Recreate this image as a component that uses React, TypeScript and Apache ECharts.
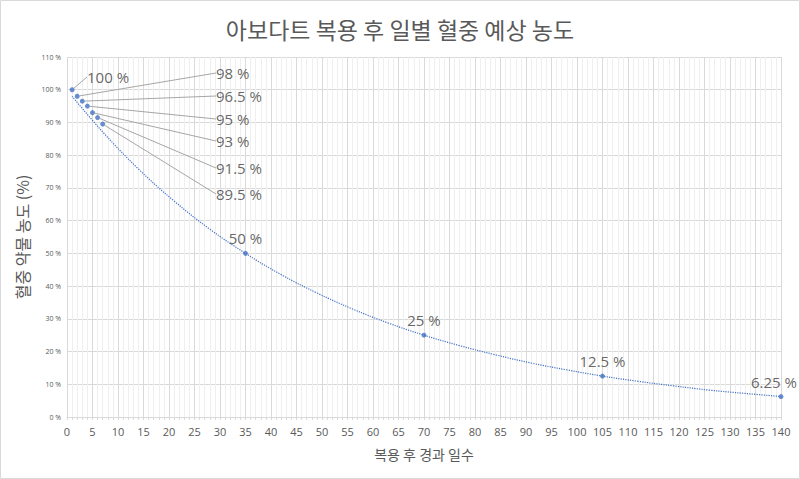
import React, { useEffect, useRef } from "react";
import * as echarts from "echarts";

const days = [1, 2, 3, 4, 5, 6, 7, 35, 70, 105, 140];
const concentration = [100, 98, 96.5, 95, 93, 91.5, 89.5, 50, 25, 12.5, 6.25];
// dotted trend curve
const trendDays = [1, 7, 14, 21, 28, 35, 42, 49, 56, 63, 70, 77, 84, 91, 98, 105, 112, 119, 126, 133, 140];
const trendValues = [98, 87.1, 75.8, 66, 57.4, 50, 43.5, 37.9, 33, 28.7, 25, 21.8, 19, 16.5, 14.4, 12.5, 10.9, 9.5, 8.2, 7.2, 6.25];
const titleText = "아보다트 복용 후 일별 혈중 예상 농도";
const xName = "복용 후 경과 일수";
const yName = "혈중 약물 농도 (%)";

const calloutY = [73, 96, 119, 141, 168, 194];

export default function App() {
  const ref = useRef<HTMLDivElement>(null);
  useEffect(() => {
    document.body.style.margin = "0";
    const chart = echarts.init(ref.current!, null, { renderer: "svg" });
    const data = days.map((d, i) => ({
      value: [d, concentration[i]],
      labelLine: { show: i <= 6 },
    }));
    chart.setOption({
      animation: false,
      backgroundColor: "#ffffff",
      title: {
        text: titleText,
        left: "center",
        top: 12,
        textStyle: {
          fontFamily: "Noto Sans CJK KR",
          fontSize: 23,
          fontWeight: "normal",
          color: "#595959",
        },
      },
      graphic: [
        {
          type: "rect",
          shape: { x: 0.5, y: 0.5, width: 799, height: 478 },
          style: { fill: "none", stroke: "#d9d9d9", lineWidth: 1 },
          silent: true,
        },
      ],
      grid: { left: 67, right: 19, top: 57, bottom: 62 },
      xAxis: {
        type: "value",
        min: 0,
        max: 140,
        interval: 5,
        name: xName,
        nameLocation: "middle",
        nameGap: 30,
        nameTextStyle: { fontFamily: "Noto Sans CJK KR", fontSize: 14, color: "#595959" },
        axisLine: { show: true, lineStyle: { color: "#d9d9d9" } },
        axisTick: { show: true, length: 3, lineStyle: { color: "#d9d9d9" } },
        minorTick: { show: true, splitNumber: 5, length: 3, lineStyle: { color: "#d9d9d9" } },
        axisLabel: { fontFamily: "Open Sans", fontSize: 11, color: "#595959", margin: 9 },
        splitLine: { show: true, lineStyle: { color: "#d9d9d9", width: 1 } },
        minorSplitLine: { show: true, lineStyle: { color: "#efefef", width: 1 } },
      },
      yAxis: {
        type: "value",
        min: 0,
        max: 110,
        interval: 10,
        name: yName,
        nameLocation: "middle",
        nameGap: 31,
        nameRotate: 90,
        nameTextStyle: { fontFamily: "Noto Sans CJK KR", fontSize: 16, color: "#595959" },
        axisLine: { show: false },
        axisTick: { show: false },
        axisLabel: {
          fontFamily: "Open Sans",
          fontSize: 7,
          color: "#595959",
          margin: 6,
          formatter: "{value} %",
        },
        splitLine: { show: true, lineStyle: { color: "#d9d9d9", width: 1 } },
      },
      series: [
        {
          type: "line",
          data: trendDays.map((d, i) => [d, trendValues[i]]),
          smooth: 0.4,
          showSymbol: false,
          silent: true,
          lineStyle: { color: "#4472C4", width: 1.2, type: "dotted" },
          z: 2,
        },
        {
          type: "scatter",
          data,
          symbol: "circle",
          symbolSize: 5,
          itemStyle: { color: "#4472C4" },
          z: 3,
          label: {
            show: true,
            position: "top",
            distance: 5,
            fontFamily: "Open Sans",
            fontSize: 15,
            color: "#404040",
            formatter: (p: any) => `${p.value[1]} %`,
          },
          labelLine: { show: true, lineStyle: { color: "#a6a6a6", width: 1 } },
          labelLayout: (p: any) => {
            const i = p.dataIndex;
            if (i === 0) return { x: 87, y: 77, align: "left", verticalAlign: "middle" };
            if (i >= 1 && i <= 6)
              return { x: 216, y: calloutY[i - 1], align: "left", verticalAlign: "middle" };
            if (i === days.length - 1) return { dx: -7 };
            return {};
          },
        },
      ],
    });
    return () => chart.dispose();
  }, []);
  return <div ref={ref} style={{ width: 800, height: 479 }} />;
}
